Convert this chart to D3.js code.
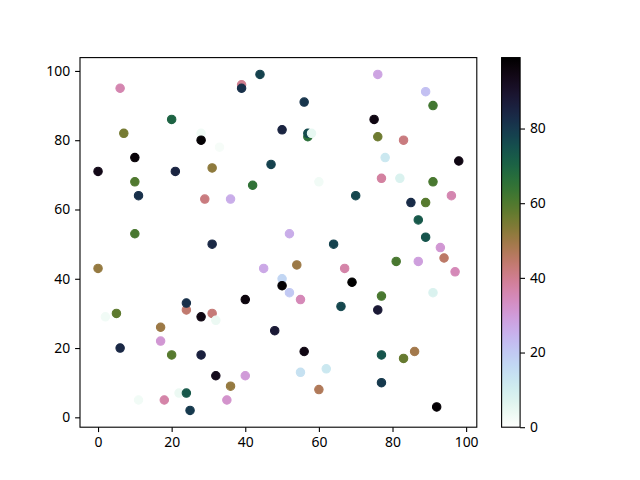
<!DOCTYPE html>
<html><head><meta charset="utf-8">
<script src="https://cdn.jsdelivr.net/npm/d3@7"></script>
<style>body{margin:0;background:#fff}svg{display:block}</style>
</head><body>
<svg id="chart" width="640" height="480"></svg>
<script>
const xs = [6,20,7,28,28,10,0,21,31,10,44,39,39,56,50,57,57,58,33,47,42,60,76,89,91,75,76,83,78,98,77,82,91,11,29,10,31,0,24,24,36,52,64,45,54,67,50,50,52,55,40,66,70,96,85,89,87,89,93,94,81,87,97,69,91,77,2,5,28,31,32,17,17,6,20,28,32,11,18,22,24,25,48,56,40,55,62,60,36,35,45,76,77,83,86,77,92];
const ys = [95,86,82,82,80,75,71,71,72,68,99,96,95,91,83,81,82,82,78,73,67,68,99,94,90,86,81,80,75,74,69,69,68,64,63,53,50,43,31,33,63,53,50,43,44,43,40,38,36,34,34,32,64,64,62,62,57,52,49,46,45,45,42,39,36,35,29,30,29,30,28,26,22,20,18,18,12,5,5,7,7,2,25,19,12,13,14,8,9,5,6,31,18,17,19,10,3];
const cs = [36,70,55,3,98,97,94,85,52,60,78,40,82,81,85,66,76,5,2,78,65,3,28,22,62,95,56,42,12,95,38,8,61,82,42,61,84,51,44,82,26,26,78,27,50,37,17,98,20,35,96,77,77,36,83,59,73,74,31,45,61,29,35,99,8,61,3,58,95,43,4,50,31,84,59,86,93,3,37,4,73,80,88,95,30,14,12,47,51,32,0,88,74,57,49,80,98];
const xTicks = [0,20,40,60,80,100];
const yTicks = [0,20,40,60,80,100];
const cTicks = [0,20,40,60,80];

function cubehelix(l){
  const a = l*(1-l)/2, phi = 2*Math.PI*(0.5/3 - 1.5*l);
  const c = Math.cos(phi), s = Math.sin(phi);
  const cl = v => Math.max(0, Math.min(1, v));
  const r = cl(l + a*(-0.14861*c + 1.78277*s));
  const g = cl(l + a*(-0.29227*c - 0.90649*s));
  const b = cl(l + a*(1.97294*c));
  return d3.rgb(r*255, g*255, b*255).formatHex();
}
const cmin = d3.min(cs), cmax = d3.max(cs);
const cmap = v => cubehelix(1 - (v - cmin)/(cmax - cmin));

const svg = d3.select('#chart');
svg.append('rect').attr('width',640).attr('height',480).attr('fill','#fff');
const L = 80, R = 476.8, T = 57.6, B = 427.2;
const font = "'Noto Sans', sans-serif";

const xe = d3.extent(xs), ye = d3.extent(ys);
const xp = (xe[1]-xe[0])*0.05, yp = (ye[1]-ye[0])*0.05;
const x = d3.scaleLinear().domain([xe[0]-xp, xe[1]+xp]).range([L, R]);
const y = d3.scaleLinear().domain([ye[0]-yp, ye[1]+yp]).range([B, T]);

const pts = xs.map((d,i)=>({x:d, y:ys[i], c:cs[i]}));
svg.append('g').selectAll('circle').data(pts).join('circle')
  .attr('cx', d=>x(d.x)).attr('cy', d=>y(d.y)).attr('r', 4.2)
  .attr('fill', d=>cmap(d.c)).attr('stroke', d=>cmap(d.c)).attr('stroke-width', 1.1);

function styleAxis(g){
  g.select('.domain').remove();
  g.selectAll('.tick line').attr('stroke','#000').attr('stroke-width',1.1);
  g.selectAll('.tick text').attr('fill','#000').style('font-family',font).style('font-size','13.9px');
}
svg.append('g').attr('transform',`translate(0,${B})`)
  .call(d3.axisBottom(x).tickValues(xTicks).tickSize(4.9).tickPadding(4.9).tickFormat(d3.format('d')))
  .call(styleAxis);
svg.append('g').attr('transform',`translate(${L},0)`)
  .call(d3.axisLeft(y).tickValues(yTicks).tickSize(4.9).tickPadding(4.9).tickFormat(d3.format('d')))
  .call(styleAxis);
svg.append('rect').attr('x',L).attr('y',T).attr('width',R-L).attr('height',B-T)
  .attr('fill','none').attr('stroke','#000').attr('stroke-width',1.1);

// colorbar
const CL = 501.6, CW = 18.5;
const defs = svg.append('defs');
const grad = defs.append('linearGradient').attr('id','cb').attr('x1',0).attr('y1',1).attr('x2',0).attr('y2',0);
d3.range(0,101).forEach(i=>{
  const v = cmin + (cmax-cmin)*i/100;
  grad.append('stop').attr('offset', (i/100)).attr('stop-color', cmap(v));
});
svg.append('rect').attr('x',CL).attr('y',T).attr('width',CW).attr('height',B-T).attr('fill','url(#cb)');
const cy = d3.scaleLinear().domain([cmin,cmax]).range([B,T]);
svg.append('g').attr('transform',`translate(${CL+CW},0)`)
  .call(d3.axisRight(cy).tickValues(cTicks).tickSize(4.9).tickPadding(4.9).tickFormat(d3.format('d')))
  .call(styleAxis);
svg.append('rect').attr('x',CL).attr('y',T).attr('width',CW).attr('height',B-T)
  .attr('fill','none').attr('stroke','#000').attr('stroke-width',1.1);
</script>
</body></html>
